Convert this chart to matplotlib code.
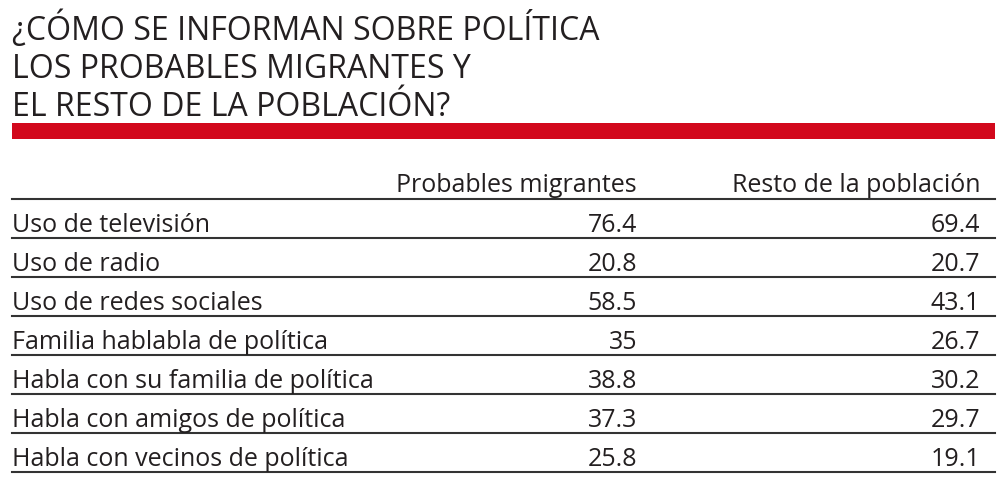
import matplotlib.pyplot as plt

# Datos de la tabla
titulo = ["¿CÓMO SE INFORMAN SOBRE POLÍTICA",
          "LOS PROBABLES MIGRANTES Y",
          "EL RESTO DE LA POBLACIÓN?"]
columnas = ["Probables migrantes", "Resto de la población"]
categorias = ["Uso de televisión", "Uso de radio", "Uso de redes sociales",
              "Familia hablabla de política", "Habla con su familia de política",
              "Habla con amigos de política", "Habla con vecinos de política"]
migrantes = ["76.4", "20.8", "58.5", "35", "38.8", "37.3", "25.8"]
resto = ["69.4", "20.7", "43.1", "26.7", "30.2", "29.7", "19.1"]

plt.rcParams['font.family'] = ['Open Sans', 'DejaVu Sans']
texto = '#231f20'
fs = 18

fig = plt.figure(figsize=(10, 4.9), dpi=100)
ax = fig.add_axes([0, 0, 1, 1])
ax.set_xlim(0, 1000)
ax.set_ylim(490, 0)
ax.axis('off')

# Título
for i, linea in enumerate(titulo):
    ax.text(12, 40 + i * 38, linea, fontsize=23, color=texto, va='baseline', ha='left')

# Barra roja
ax.fill_between([12, 995], 123, 139, color='#d2081c', linewidth=0)

# Encabezados
x_col = [637, 980]
for x, c in zip(x_col, columnas):
    ax.text(x, 192, c, fontsize=fs, color=texto, ha='right', va='baseline')

# Filas
paso = 39
ax.plot([12, 995], [199, 199], color='#333333', lw=1.5)
for i, cat in enumerate(categorias):
    base = 232 + i * paso
    ax.text(12, base, cat, fontsize=fs, color=texto, ha='left', va='baseline')
    ax.text(x_col[0], base, migrantes[i], fontsize=fs, color=texto, ha='right', va='baseline')
    ax.text(x_col[1], base, resto[i], fontsize=fs, color=texto, ha='right', va='baseline')
    ax.plot([12, 995], [238 + i * paso] * 2, color='#333333', lw=1.5)

fig.savefig('out.png', dpi=100)
